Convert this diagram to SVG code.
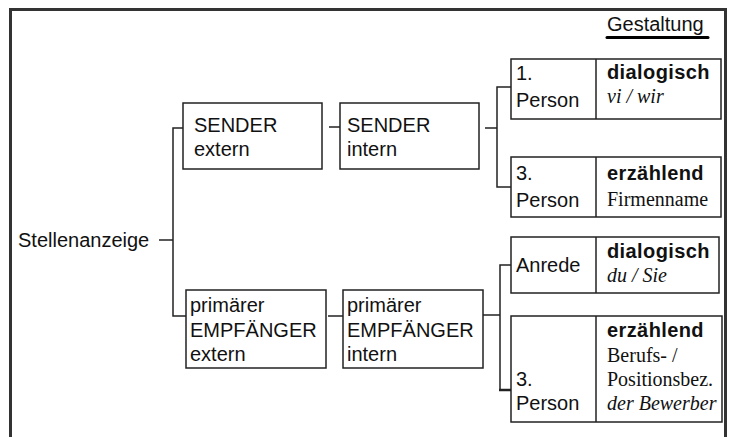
<svg xmlns="http://www.w3.org/2000/svg" width="729" height="437" viewBox="0 0 729 437">
  <style>
    .frame { fill: none; stroke: #333; stroke-width: 3; }
    .box { fill: #fff; stroke: #222; stroke-width: 1.5; }
    .div { stroke: #222; stroke-width: 1.5; }
    .ln { fill: none; stroke: #222; stroke-width: 1.5; }
    .s { font-family: "Liberation Sans", Arial, sans-serif; font-size: 20px; fill: #111; }
    .b { font-family: "Liberation Sans", Arial, sans-serif; font-size: 20px; font-weight: bold; fill: #111; letter-spacing: 0.4px; }
    .r { font-family: "Liberation Serif", "Times New Roman", serif; font-size: 20px; fill: #111; }
    .i { font-family: "Liberation Serif", "Times New Roman", serif; font-size: 20px; font-style: italic; fill: #111; }
  </style>
  <rect width="729" height="437" fill="#fff"/>
  <path class="frame" d="M10.5 437 V9.5 H725.5 V437"/>

  <g id="heading">
    <text class="s" x="607" y="31">Gestaltung</text>
    <line x1="607" y1="37.5" x2="708" y2="37.5" stroke="#000" stroke-width="3" stroke-linecap="round"/>
  </g>

  <g id="connectors">
    <line class="ln" x1="159" y1="240" x2="173" y2="240"/>
    <path class="ln" d="M183 128 H173 V316 H186"/>
    <line class="ln" x1="329" y1="127" x2="340" y2="127"/>
    <line class="ln" x1="328" y1="316" x2="343" y2="316"/>
    <line class="ln" x1="485" y1="128" x2="497" y2="128"/>
    <path class="ln" d="M511 87 H497 V187 H511"/>
    <line class="ln" x1="483" y1="315" x2="500" y2="315"/>
    <path class="ln" d="M511 265 H500 V390"/>
    <line x1="499" y1="390" x2="511" y2="390" stroke="#222" stroke-width="2.5"/>
  </g>

  <g id="root">
    <text class="s" x="18" y="247">Stellenanzeige</text>
  </g>

  <g id="sender-extern">
    <rect class="box" x="183" y="103" width="139" height="66"/>
    <text class="s" x="194" y="132">SENDER</text>
    <text class="s" x="194" y="156">extern</text>
  </g>

  <g id="sender-intern">
    <rect class="box" x="340" y="103" width="139" height="66"/>
    <text class="s" x="347" y="132">SENDER</text>
    <text class="s" x="347" y="156">intern</text>
  </g>

  <g id="empfaenger-extern">
    <rect class="box" x="186" y="290" width="140" height="78"/>
    <text class="s" x="190" y="312">primärer</text>
    <text class="s" x="190" y="337">EMPFÄNGER</text>
    <text class="s" x="190" y="361">extern</text>
  </g>

  <g id="empfaenger-intern">
    <rect class="box" x="343" y="290" width="140" height="78"/>
    <text class="s" x="347" y="312">primärer</text>
    <text class="s" x="347" y="337">EMPFÄNGER</text>
    <text class="s" x="347" y="361">intern</text>
  </g>

  <g id="person1">
    <rect class="box" x="511" y="59" width="210" height="60"/>
    <line class="div" x1="596" y1="59" x2="596" y2="119"/>
    <text class="s" x="516" y="80">1.</text>
    <text class="s" x="516" y="107">Person</text>
    <text class="b" x="607" y="79">dialogisch</text>
    <text class="i" x="607" y="103">vi / wir</text>
  </g>

  <g id="person3-sender">
    <rect class="box" x="511" y="157" width="210" height="60"/>
    <line class="div" x1="596" y1="157" x2="596" y2="217"/>
    <text class="s" x="516" y="180">3.</text>
    <text class="s" x="516" y="207">Person</text>
    <text class="b" x="607" y="180">erzählend</text>
    <text class="r" x="607" y="206">Firmenname</text>
  </g>

  <g id="anrede">
    <rect class="box" x="511" y="237" width="208" height="56"/>
    <line class="div" x1="596" y1="237" x2="596" y2="293"/>
    <text class="s" x="516" y="272">Anrede</text>
    <text class="b" x="607" y="258">dialogisch</text>
    <text class="i" x="607" y="282">du / Sie</text>
  </g>

  <g id="person3-empfaenger">
    <rect class="box" x="511" y="316" width="211" height="106"/>
    <line class="div" x1="596" y1="316" x2="596" y2="422"/>
    <text class="s" x="516" y="386">3.</text>
    <text class="s" x="516" y="410">Person</text>
    <text class="b" x="607" y="337">erzählend</text>
    <text class="r" x="607" y="362">Berufs- /</text>
    <text class="r" x="607" y="386">Positionsbez.</text>
    <text class="i" x="607" y="410">der Bewerber</text>
  </g>
</svg>
